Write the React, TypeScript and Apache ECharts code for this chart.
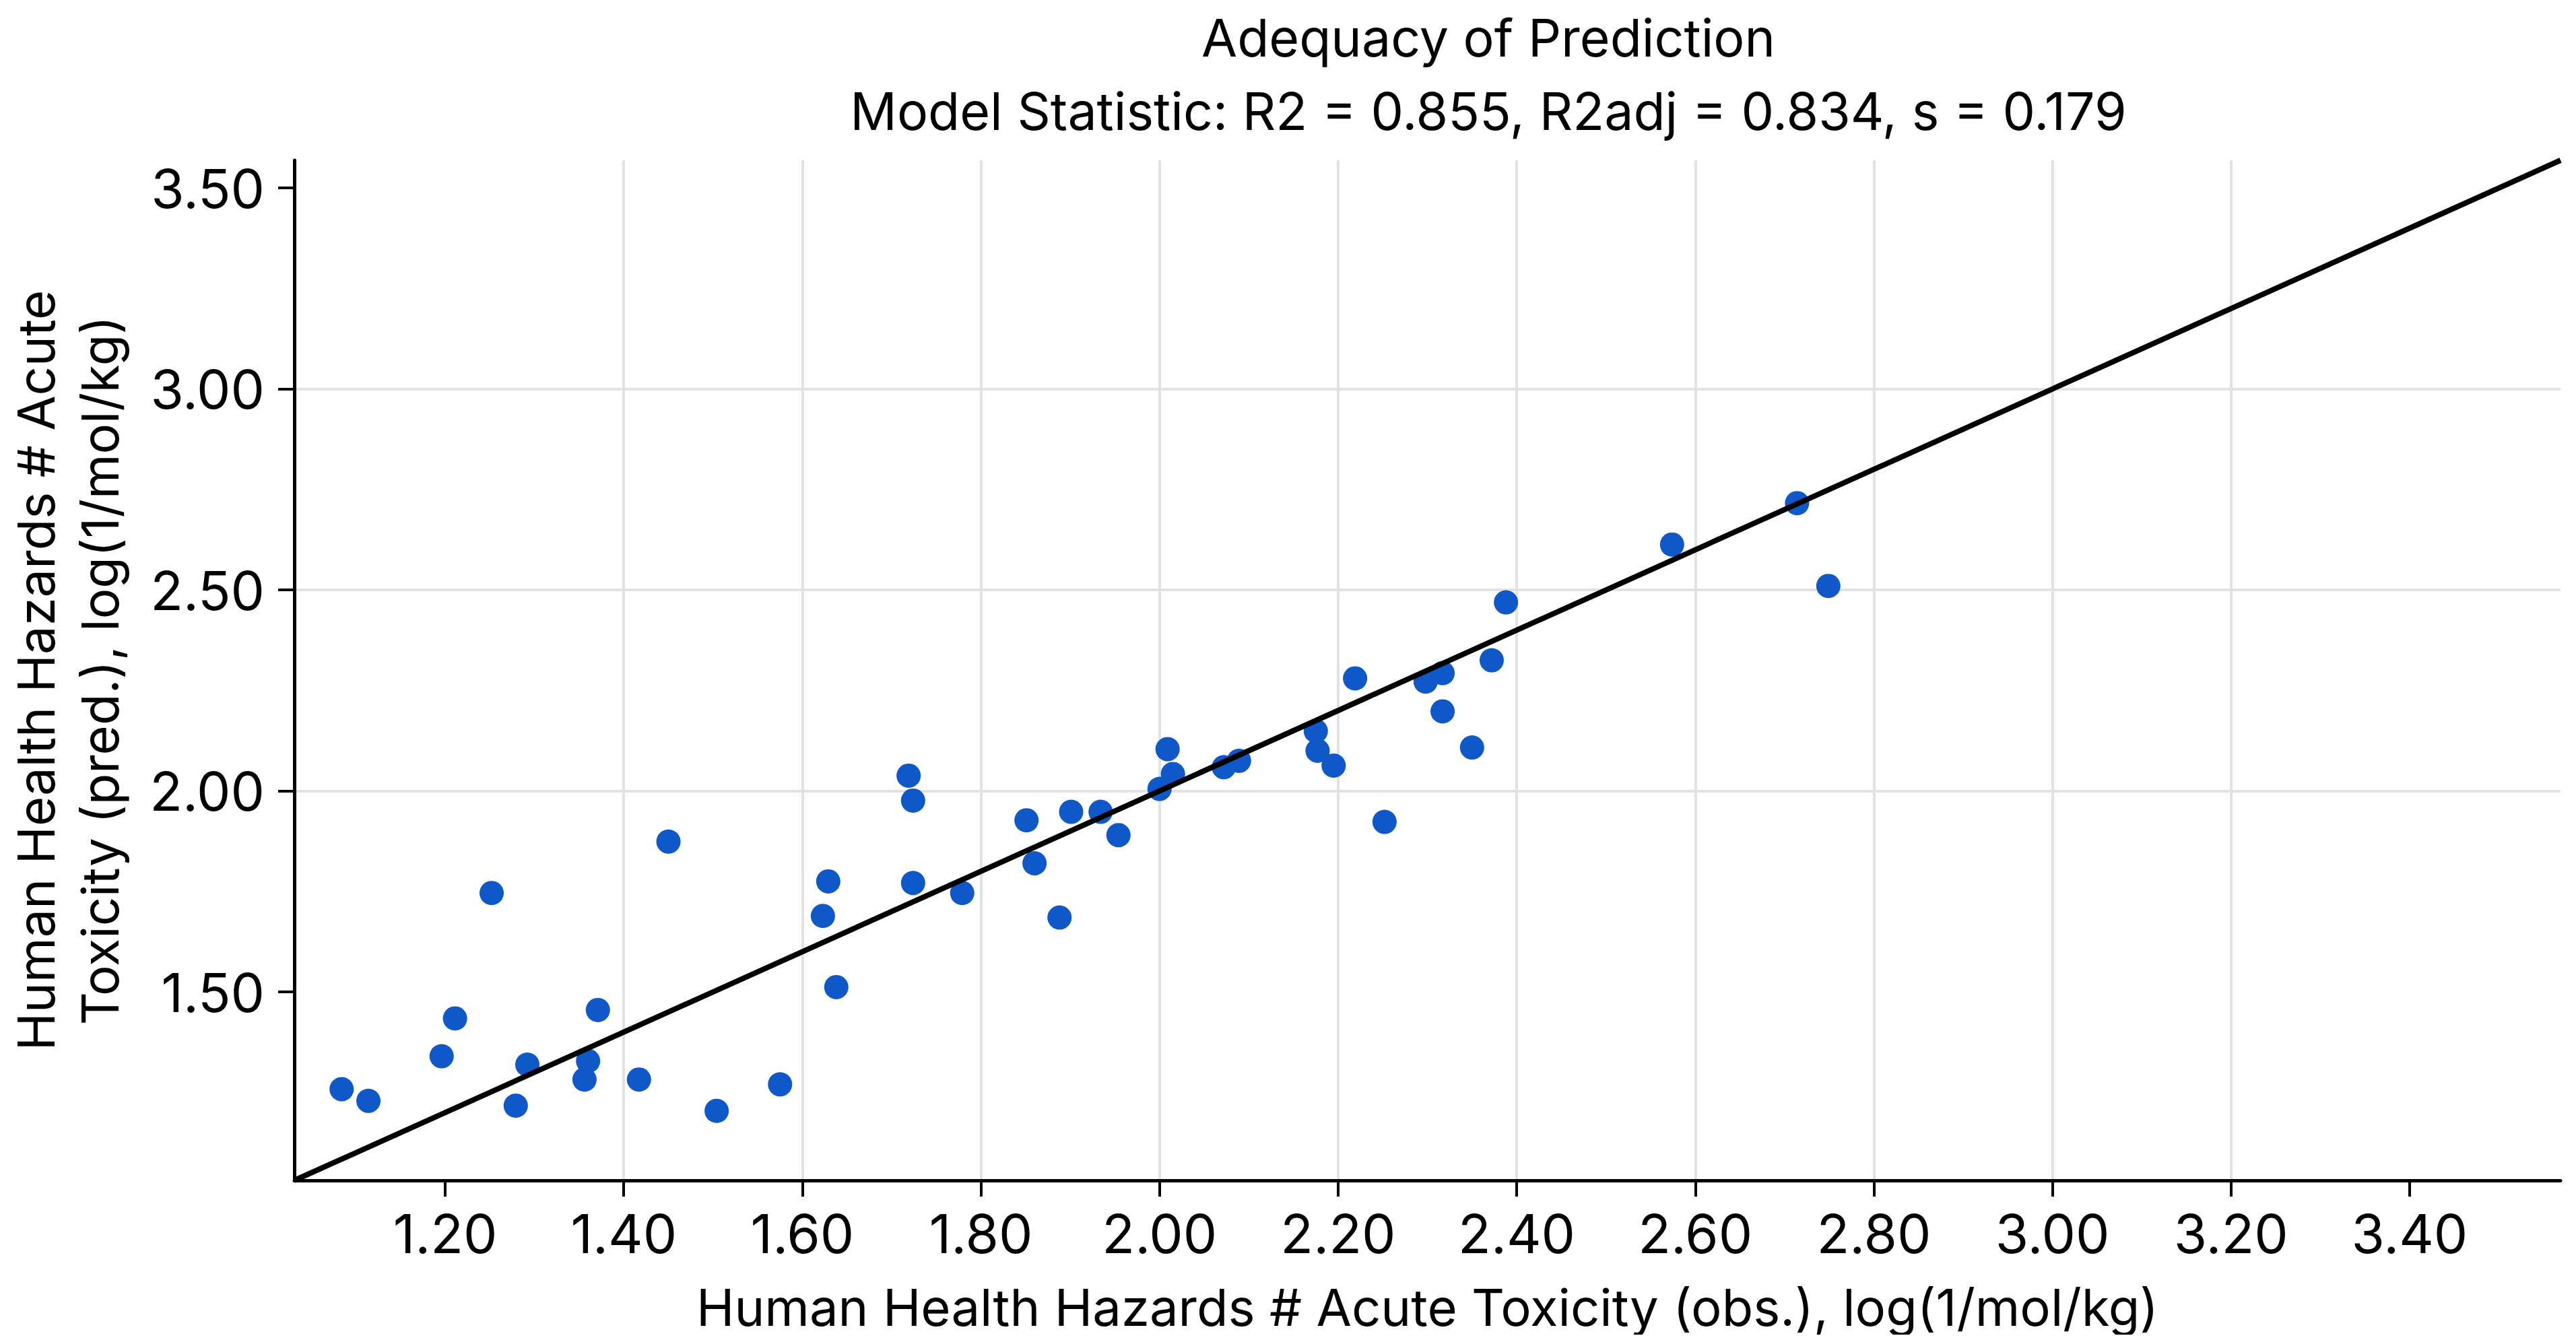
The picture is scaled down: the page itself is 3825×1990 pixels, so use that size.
import React, { useEffect, useRef } from "react";
import * as echarts from "echarts";

const titleText = "Adequacy of Prediction";
const subtitleText = "Model Statistic: R2 = 0.855, R2adj = 0.834, s = 0.179";
const xAxisName = "Human Health Hazards # Acute Toxicity (obs.), log(1/mol/kg)";
const yAxisName = "Human Health Hazards # Acute\nToxicity (pred.), log(1/mol/kg)";

const observed = [
  1.084, 1.114, 1.196, 1.211, 1.252, 1.279, 1.292, 1.356, 1.36, 1.371, 1.417, 1.45,
  1.504, 1.575, 1.623, 1.629, 1.638, 1.719, 1.724, 1.724, 1.779, 1.851, 1.86, 1.888,
  1.901, 1.934, 1.954, 2.0, 2.009, 2.015, 2.072, 2.089, 2.175, 2.177, 2.195, 2.219,
  2.252, 2.298, 2.317, 2.317, 2.35, 2.372, 2.388, 2.574, 2.714, 2.749,
];
const predicted = [
  1.258, 1.229, 1.34, 1.434, 1.746, 1.217, 1.319, 1.282, 1.328, 1.455, 1.282, 1.874,
  1.204, 1.27, 1.689, 1.775, 1.512, 2.038, 1.976, 1.771, 1.746, 1.927, 1.82, 1.685,
  1.948, 1.948, 1.89, 2.005, 2.104, 2.042, 2.059, 2.075, 2.149, 2.1, 2.063, 2.28,
  1.923, 2.272, 2.293, 2.198, 2.108, 2.325, 2.469, 2.613, 2.716, 2.51,
];

const axisMin = 1.031;
const axisMax = 3.569;
const xTicks = [1.2, 1.4, 1.6, 1.8, 2.0, 2.2, 2.4, 2.6, 2.8, 3.0, 3.2, 3.4];
const yTicks = [1.5, 2.0, 2.5, 3.0, 3.5];
const identityLine = [
  [axisMin, axisMin],
  [axisMax, axisMax],
];

const FONT = "Inter";

export default function App() {
  const ref = useRef<HTMLDivElement>(null);

  useEffect(() => {
    if (!ref.current) return;
    const chart = echarts.init(ref.current, null, { renderer: "svg" });
    const points = observed.map((x, i) => [x, predicted[i]]);
    const axisCommon = {
      type: "value",
      min: axisMin,
      max: axisMax,
      nameLocation: "middle",
      nameMoveOverlap: false,
      nameTextStyle: { fontFamily: FONT, fontSize: 76, color: "#000", lineHeight: 95 },
      axisLine: { show: true, lineStyle: { color: "#000", width: 5 } },
      axisTick: { show: true, length: 24, lineStyle: { color: "#000", width: 4 } },
      splitLine: { show: true, showMinLine: false, showMaxLine: false, lineStyle: { color: "#e2e2e2", width: 4 } },
      axisLabel: {
        fontFamily: FONT,
        fontSize: 80,
        color: "#000",
        formatter: (v: number) => v.toFixed(2),
      },
    };
    chart.setOption({
      animation: false,
      backgroundColor: "#fff",
      title: {
        text: titleText,
        subtext: subtitleText,
        left: 2202,
        top: 8,
        padding: 0,
        textAlign: "center",
        itemGap: 29,
        textStyle: { fontFamily: FONT, fontSize: 77, fontWeight: "normal", color: "#000", lineHeight: 80 },
        subtextStyle: { fontFamily: FONT, fontSize: 77, color: "#000", lineHeight: 80 },
      },
      grid: { left: 429, right: 15, top: 230, bottom: 229, containLabel: false, outerBoundsMode: "none" },
      xAxis: {
        ...axisCommon,
        name: xAxisName,
        nameGap: 140,
        minInterval: 0.2,
        maxInterval: 0.2,
        splitNumber: 12,
        axisTick: { ...axisCommon.axisTick, customValues: xTicks },
        axisLabel: { ...axisCommon.axisLabel, margin: 38, customValues: xTicks },
      },
      yAxis: {
        ...axisCommon,
        name: yAxisName,
        nameGap: 242,
        nameRotate: 90,
        minInterval: 0.5,
        maxInterval: 0.5,
        splitNumber: 5,
        axisTick: { ...axisCommon.axisTick, customValues: yTicks },
        axisLabel: { ...axisCommon.axisLabel, margin: 44, customValues: yTicks },
      },
      series: [
        {
          type: "scatter",
          data: points,
          symbol: "circle",
          symbolSize: 36,
          itemStyle: { color: "#0e58c9", opacity: 1 },
          z: 2,
        },
        {
          type: "line",
          data: identityLine,
          showSymbol: false,
          symbol: "none",
          lineStyle: { color: "#000", width: 8 },
          z: 3,
        },
      ],
    });
    return () => chart.dispose();
  }, []);

  return <div ref={ref} style={{ width: 3809, height: 1974 }} />;
}
